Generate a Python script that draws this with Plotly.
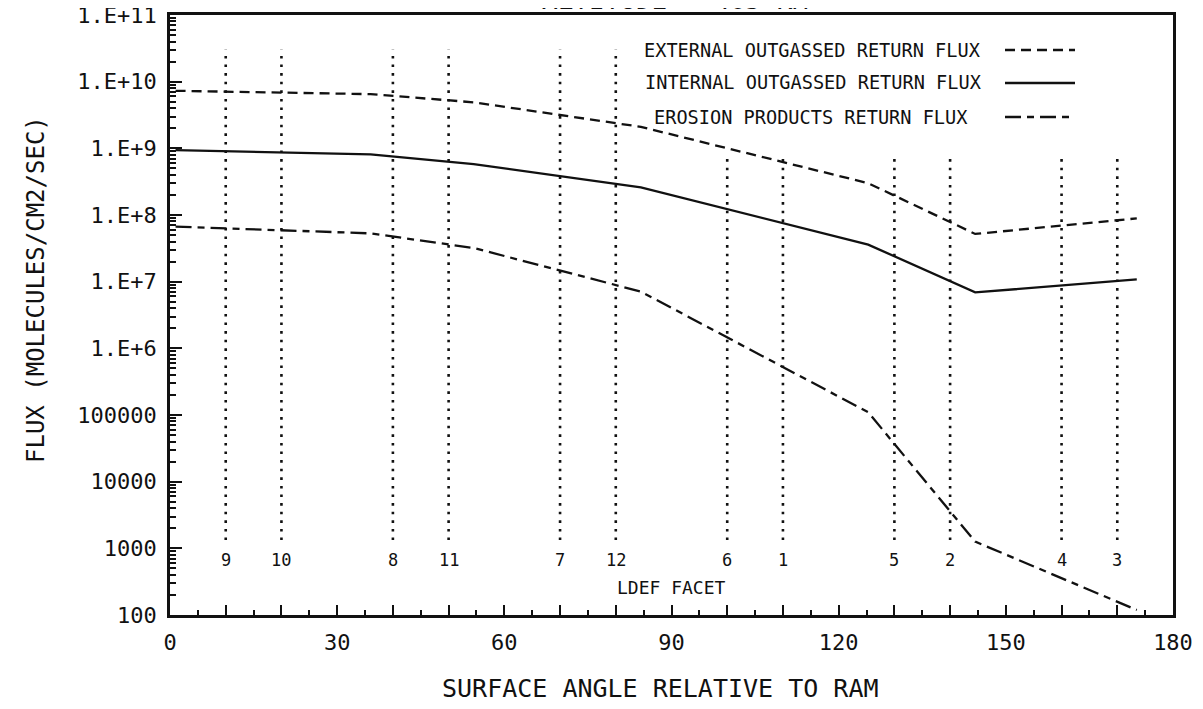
import plotly.graph_objects as go

# ---- data ----
angle = [1, 36, 54.5, 84.5, 125.3, 144.5, 173.5]
external_flux = [7.3e9, 6.5e9, 4.9e9, 2.1e9, 3.0e8, 5.2e7, 8.9e7]
internal_flux = [9.4e8, 8.1e8, 5.8e8, 2.6e8, 3.6e7, 6.9e6, 1.08e7]
erosion_flux = [6.7e7, 5.3e7, 3.2e7, 7.1e6, 1.1e5, 1.26e3, 1.19e2]

facet_angle = [10, 20, 40, 50, 70, 80, 100, 110, 130, 140, 160, 170]
facet_label = ['9', '10', '8', '11', '7', '12', '6', '1', '5', '2', '4', '3']
facet_top = [3e10] * 6 + [7.9e8] * 6
facet_bottom = 1.33e3

x_tickvals = list(range(0, 190, 10))
x_ticktext = [str(v) if v % 30 == 0 else '' for v in x_tickvals]
y_tickvals = [1e2, 1e3, 1e4, 1e5, 1e6, 1e7, 1e8, 1e9, 1e10, 1e11]
y_ticktext = ['100', '1000', '10000', '100000', '1.E+6', '1.E+7', '1.E+8',
              '1.E+9', '1.E+10', '1.E+11']
series_names = ['EXTERNAL OUTGASSED RETURN FLUX', 'INTERNAL OUTGASSED RETURN FLUX',
                'EROSION PRODUCTS RETURN FLUX']

FONT = "DejaVu Sans Mono"
INK = "#111111"
OFF = 8  # page body margin
W, H = 1203, 709
L, T = 162, 7
PW, PH = 1003, 600
R, B = W - L - PW, H - T - PH


def px(p):
    return (p - OFF - L) / PW


def py(p):
    return (T + PH - (p - OFF)) / PH


fig = go.Figure()

# facet dotted lines
for a, top in zip(facet_angle, facet_top):
    fig.add_trace(go.Scatter(x=[a, a], y=[facet_bottom, top], mode='lines',
                             line=dict(color=INK, width=2.6, dash='2.6px,6px'),
                             showlegend=False, hoverinfo='skip'))

styles = [dict(dash='10px,6px'), dict(dash='solid'), dict(dash='16px,6px,7px,6px')]
for name, ys, st in zip(series_names, [external_flux, internal_flux, erosion_flux], styles):
    fig.add_trace(go.Scatter(x=angle, y=ys, mode='lines', name=name,
                             line=dict(color=INK, width=2.3, **st), showlegend=False))

annotations = []
# facet labels
for a, lab in zip(facet_angle, facet_label):
    annotations.append(dict(x=a, y=2.83, xref='x', yref='y', text=lab, showarrow=False,
                            xanchor='center', yanchor='middle',
                            font=dict(family=FONT, size=17, color=INK)))
annotations.append(dict(x=90, y=2.41, xref='x', yref='y', text='LDEF FACET', showarrow=False,
                        xanchor='center', yanchor='middle',
                        font=dict(family=FONT, size=18, color=INK)))

# manual legend
legend_y = [50, 83, 117]
legend_x0 = [642, 643, 652]
for name, ly, lx, st in zip(series_names, legend_y, legend_x0, styles):
    annotations.append(dict(x=px(lx), y=py(ly), xref='paper', yref='paper', text=name,
                            showarrow=False, xanchor='left', yanchor='middle',
                            font=dict(family=FONT, size=18.6, color=INK)))
    fig.add_shape(type='line', xref='paper', yref='paper', x0=px(1005), x1=px(1075),
                  y0=py(ly), y1=py(ly), line=dict(color=INK, width=2.3, dash=st['dash']))

# title (cut off at top in the reference)
annotations.append(dict(x=px(675), y=py(17), xref='paper', yref='paper',
                        text='ALTITUDE = 465 KM', showarrow=False, xanchor='center',
                        yanchor='bottom', font=dict(family=FONT, size=26, color=INK)))
# axis titles
annotations.append(dict(x=px(660), y=py(688), xref='paper', yref='paper',
                        text='SURFACE ANGLE RELATIVE TO RAM', showarrow=False,
                        xanchor='center', yanchor='middle',
                        font=dict(family=FONT, size=25, color=INK)))
annotations.append(dict(x=px(36), y=py(290), xref='paper', yref='paper',
                        text='FLUX (MOLECULES/CM2/SEC)', showarrow=False, textangle=-90,
                        xanchor='center', yanchor='middle',
                        font=dict(family=FONT, size=24, color=INK)))

minor_y = [k * 10 ** n for n in range(2, 11) for k in range(2, 10)]

fig.update_layout(
    width=W, height=H, margin=dict(l=L, r=R, t=T, b=B, autoexpand=False),
    paper_bgcolor='white', plot_bgcolor='white', showlegend=False,
    annotations=annotations,
    xaxis=dict(range=[0, 180], tickmode='array', tickvals=x_tickvals, ticktext=x_ticktext,
               ticks='inside', ticklen=10, tickwidth=2, tickcolor=INK,
               minor=dict(tickmode='array', tickvals=list(range(5, 180, 10)),
                          ticks='inside', ticklen=5, tickwidth=2, tickcolor=INK),
               showline=True, linewidth=2.5, linecolor=INK, mirror=True,
               showgrid=False, zeroline=False, ticklabelstandoff=6,
               ticklabeloverflow='allow',
               tickfont=dict(family=FONT, size=22, color=INK)),
    yaxis=dict(type='log', range=[2, 11], tickmode='array', tickvals=y_tickvals,
               ticktext=y_ticktext, ticks='inside', ticklen=12, tickwidth=2, tickcolor=INK,
               minor=dict(tickmode='array', tickvals=minor_y, ticks='inside', ticklen=6,
                          tickwidth=1.5, tickcolor=INK),
               showline=True, linewidth=2.5, linecolor=INK, mirror=True,
               showgrid=False, zeroline=False, ticklabelstandoff=6,
               ticklabeloverflow='allow',
               tickfont=dict(family=FONT, size=22, color=INK)),
)

fig.write_html("out.html")
